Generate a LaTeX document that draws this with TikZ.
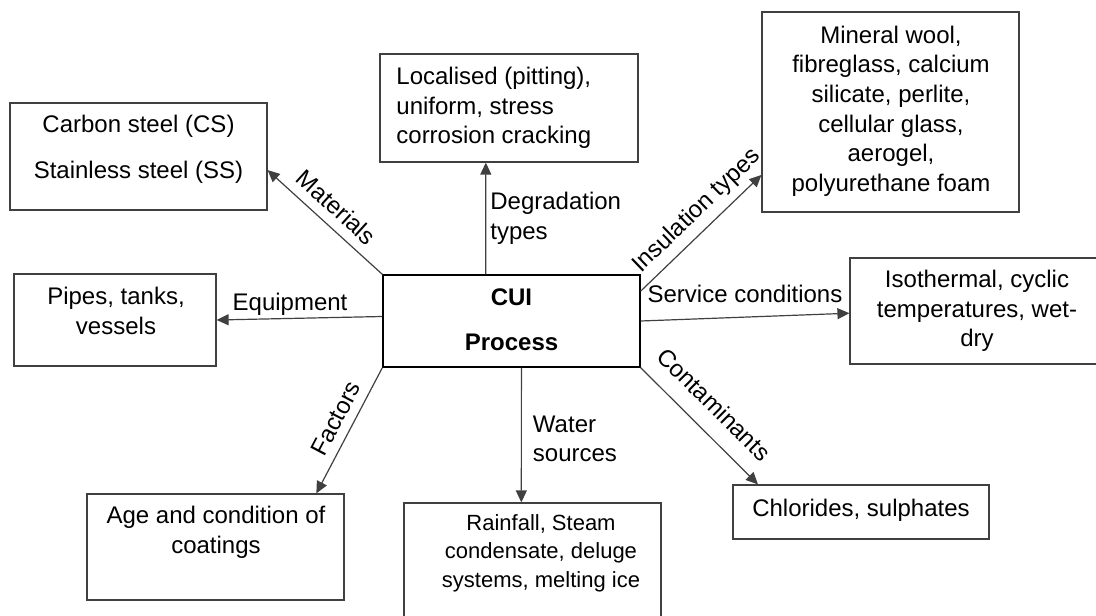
\documentclass[tikz,border=0pt]{standalone}
\usepackage{fontspec}
\setmainfont{Liberation Sans}
\usetikzlibrary{arrows.meta}
\begin{document}
\begin{tikzpicture}[x=0.5pt,y=-0.5pt,
  font=\fontsize{12}{14.8}\selectfont,
  box/.style={draw=black!75, line width=0.6pt, rectangle, inner sep=0pt},
  hub/.style={box, draw=black},
  txt/.style={inner sep=0pt, align=center},
  link/.style={draw=black!75, line width=0.6pt, -{Triangle[length=6pt,width=5.5pt]}},
  tag/.style={inner xsep=0pt, text=black}
]
\useasboundingbox (0,0) rectangle (1096,615);

% central process box
\node[hub, minimum width=128.5pt, minimum height=46pt] (cui) at (511.5,321) {};
\node[txt, font=\fontsize{12}{14.8}\selectfont\bfseries] (cuiText) at (511.5,320) {CUI\\[7.75pt]Process};

% surrounding boxes
\node[box, minimum width=128.5pt, minimum height=53.5pt] (mat) at (138.5,156.5) {};
\node[txt] (matText) at (138.5,149) {Carbon steel (CS)\\[8pt]Stainless steel (SS)};

\node[box, minimum width=129pt, minimum height=54pt] (deg) at (509,108) {};
\node[txt, align=left, anchor=west] (degText) at (396,108) {Localised (pitting),\\uniform, stress\\corrosion cracking};

\node[box, minimum width=128.5pt, minimum height=100pt] (ins) at (890.5,112) {};
\node[txt] (insText) at (891,111) {Mineral wool,\\fibreglass, calcium\\silicate, perlite,\\cellular glass,\\aerogel,\\polyurethane foam};

\node[box, minimum width=127pt, minimum height=53pt] (svc) at (977,311) {};
\node[txt] (svcText) at (977,311) {Isothermal, cyclic\\temperatures, wet-\\dry};

\node[box, minimum width=101pt, minimum height=46pt] (equ) at (115,320) {};
\node[txt] (equText) at (116,311) {Pipes, tanks,\\vessels};

\node[box, minimum width=128.5pt, minimum height=53pt] (fac) at (215.5,547) {};
\node[txt] (facText) at (216,532) {Age and condition of\\coatings};

\node[box, minimum width=128.5pt, minimum height=70pt] (wat) at (532.5,573) {};
\node[txt, font=\fontsize{11}{14.25}\selectfont] (watText) at (541,553) {Rainfall, Steam\\condensate, deluge\\systems, melting ice};

\node[box, minimum width=128pt, minimum height=27pt] (con) at (861,512) {};
\node[txt] (conText) at (861,510) {Chlorides, sulphates};

% labelled connectors from the process box
\draw[link] (cui.north west) -- (mat.-6.9)
  node[tag, sloped, above, inner ysep=4.7pt, pos=0.51] (lMat) {Materials};
\draw[link] (cui.119) -- (deg.-113.1)
  node[tag, right, inner xsep=2pt, inner ysep=0pt, align=left, pos=0.5] (lDeg) {Degradation\\types};
\draw[link] (cui.13.6) -- (ins.206.1)
  node[tag, sloped, above, inner ysep=3.5pt, pos=0.574] (lIns) {Insulation types};
\draw[link] (cui.east) -- (svc.181.4)
  node[tag, above, inner ysep=6.75pt, pos=0.5] (lSvc) {Service conditions};
\draw[link] (cui.178.7) -- (equ.-0.6)
  node[tag, above, inner ysep=1.35pt, pos=0.557] (lEqu) {Equipment};
\draw[link] (cui.south west) -- (fac.28.5)
  node[tag, sloped, above, inner ysep=4.4pt, pos=0.468] (lFac) {Factors};
\draw[link] (cui.-78.3) -- (wat.99.3)
  node[tag, right, inner xsep=5.5pt, inner ysep=0pt, align=left, pos=0.53] (lWat) {Water\\sources};
\draw[link] (cui.south east) -- (con.165.6)
  node[tag, sloped, above, inner ysep=8.3pt, pos=0.471] (lCon) {Contaminants};
\end{tikzpicture}
\end{document}
